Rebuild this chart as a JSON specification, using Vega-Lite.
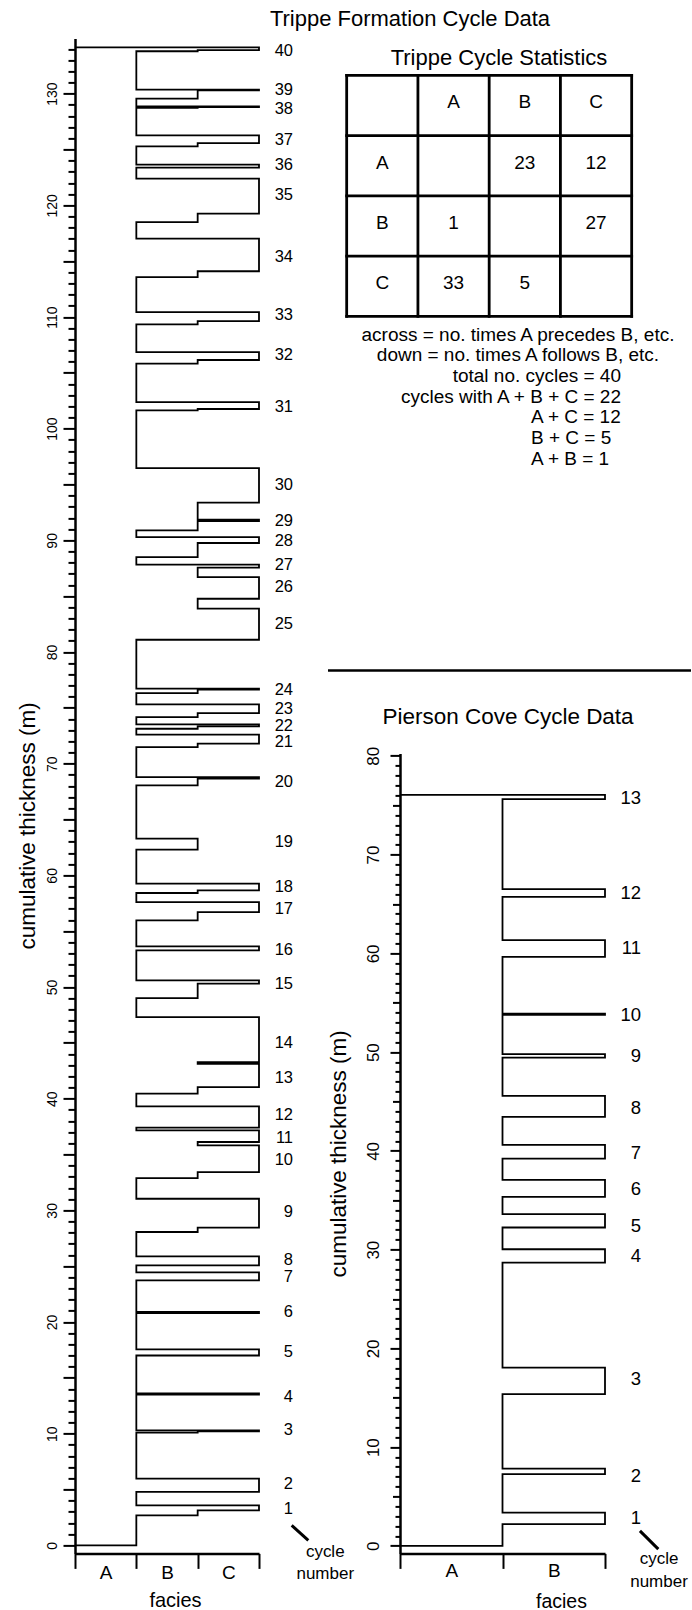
{
  "$schema": "https://vega.github.io/schema/vega-lite/v6.json",
  "background": "white",
  "padding": {"left": 16, "top": 7.4, "right": 0, "bottom": 0},
  "bounds": "flush",
  "spacing": 141,
  "datasets": {
    "facies": [{"f": "-", "k": 0}, {"f": "A", "k": 1}, {"f": "B", "k": 2}, {"f": "C", "k": 3}],
    "trippe": [
      {"s":0,"f":"-","t":0},{"s":1,"f":"A","t":0},{"s":2,"f":"B","t":2.69},{"s":3,"f":"C","t":3.13},{"s":4,"f":"A","t":3.58},
      {"s":5,"f":"C","t":4.78},{"s":6,"f":"A","t":5.97},{"s":7,"f":"B","t":10.1},{"s":8,"f":"C","t":10.2},{"s":9,"f":"A","t":10.3},
      {"s":10,"f":"C","t":13.5},{"s":11,"f":"A","t":13.6},{"s":12,"f":"C","t":17.0},{"s":13,"f":"A","t":17.55},{"s":14,"f":"C","t":20.8},
      {"s":15,"f":"A","t":20.9},{"s":16,"f":"C","t":23.73},{"s":17,"f":"A","t":24.45},{"s":18,"f":"C","t":25.07},{"s":19,"f":"A","t":25.88},
      {"s":20,"f":"B","t":28.06},{"s":21,"f":"C","t":28.45},{"s":22,"f":"A","t":31.04},{"s":23,"f":"B","t":32.89},{"s":24,"f":"C","t":33.43},
      {"s":25,"f":"B","t":35.82},{"s":26,"f":"C","t":36.12},{"s":27,"f":"A","t":37.16},{"s":28,"f":"C","t":37.4},{"s":29,"f":"A","t":39.31},
      {"s":30,"f":"B","t":40.45},{"s":31,"f":"C","t":41.04},{"s":32,"f":"B","t":43.13},{"s":33,"f":"C","t":43.28},{"s":34,"f":"A","t":47.31},
      {"s":35,"f":"B","t":49.01},{"s":36,"f":"C","t":50.3},{"s":37,"f":"A","t":50.6},{"s":38,"f":"C","t":53.28},{"s":39,"f":"A","t":53.64},
      {"s":40,"f":"B","t":55.97},{"s":41,"f":"C","t":56.71},{"s":42,"f":"A","t":57.61},{"s":43,"f":"B","t":58.42},{"s":44,"f":"C","t":58.66},
      {"s":45,"f":"A","t":59.26},{"s":46,"f":"B","t":62.3},{"s":47,"f":"A","t":63.28},{"s":48,"f":"B","t":68.06},{"s":49,"f":"C","t":68.66},
      {"s":50,"f":"A","t":68.8},{"s":51,"f":"B","t":71.49},{"s":52,"f":"C","t":71.79},{"s":53,"f":"A","t":72.6},{"s":54,"f":"B","t":73.13},
      {"s":55,"f":"C","t":73.34},{"s":56,"f":"A","t":73.52},{"s":57,"f":"B","t":74.17},{"s":58,"f":"C","t":74.53},{"s":59,"f":"A","t":75.31},
      {"s":60,"f":"B","t":76.32},{"s":61,"f":"C","t":76.63},{"s":62,"f":"A","t":76.72},{"s":63,"f":"C","t":81.1},{"s":64,"f":"B","t":83.88},
      {"s":65,"f":"C","t":84.77},{"s":66,"f":"B","t":86.71},{"s":67,"f":"C","t":87.55},{"s":68,"f":"A","t":87.82},{"s":69,"f":"B","t":88.5},
      {"s":70,"f":"C","t":89.76},{"s":71,"f":"A","t":90.29},{"s":72,"f":"B","t":90.89},{"s":73,"f":"C","t":91.73},{"s":74,"f":"B","t":91.85},
      {"s":75,"f":"C","t":93.37},{"s":76,"f":"A","t":96.47},{"s":77,"f":"B","t":101.64},{"s":78,"f":"C","t":101.76},{"s":79,"f":"A","t":102.38},
      {"s":80,"f":"B","t":105.82},{"s":81,"f":"C","t":106.15},{"s":82,"f":"A","t":106.86},{"s":83,"f":"B","t":109.34},{"s":84,"f":"C","t":109.64},
      {"s":85,"f":"A","t":110.44},{"s":86,"f":"B","t":113.58},{"s":87,"f":"C","t":114.1},{"s":88,"f":"A","t":117.02},{"s":89,"f":"B","t":118.5},
      {"s":90,"f":"C","t":119.25},{"s":91,"f":"A","t":122.39},{"s":92,"f":"C","t":123.37},{"s":93,"f":"A","t":123.64},{"s":94,"f":"B","t":125.28},
      {"s":95,"f":"C","t":125.57},{"s":96,"f":"A","t":126.26},{"s":97,"f":"B","t":128.74},{"s":98,"f":"C","t":128.8},{"s":99,"f":"A","t":128.86},
      {"s":100,"f":"B","t":129.55},{"s":101,"f":"C","t":130.3},{"s":102,"f":"A","t":130.36},{"s":103,"f":"B","t":133.8},{"s":104,"f":"C","t":133.9},
      {"s":105,"f":"-","t":134.15}
    ],
    "trippeLabels": [
      {"n":"1","t":3.29},{"n":"2","t":5.52},{"n":"3","t":10.3},{"n":"4","t":13.28},{"n":"5","t":17.31},{"n":"6","t":20.89},{"n":"7","t":24.03},
      {"n":"8","t":25.52},{"n":"9","t":29.85},{"n":"10","t":34.48},{"n":"11","t":36.51},{"n":"12","t":38.51},{"n":"13","t":41.88},{"n":"14","t":44.98},
      {"n":"15","t":50.3},{"n":"16","t":53.28},{"n":"17","t":57.01},{"n":"18","t":58.95},{"n":"19","t":62.98},{"n":"20","t":68.35},{"n":"21","t":71.94},
      {"n":"22","t":73.34},{"n":"23","t":74.93},{"n":"24","t":76.63},{"n":"25","t":82.54},{"n":"26","t":85.82},{"n":"27","t":87.76},{"n":"28","t":89.93},
      {"n":"29","t":91.73},{"n":"30","t":94.92},{"n":"31","t":101.93},{"n":"32","t":106.6},{"n":"33","t":110.15},{"n":"34","t":115.37},{"n":"35","t":120.9},
      {"n":"36","t":123.58},{"n":"37","t":125.82},{"n":"38","t":128.66},{"n":"39","t":130.36},{"n":"40","t":133.8}
    ],
    "pierson": [
      {"s":0,"f":"-","t":0},{"s":1,"f":"A","t":0},{"s":2,"f":"B","t":2.2},{"s":3,"f":"A","t":3.37},{"s":4,"f":"B","t":7.26},{"s":5,"f":"A","t":7.83},
      {"s":6,"f":"B","t":15.36},{"s":7,"f":"A","t":18.06},{"s":8,"f":"B","t":28.69},{"s":9,"f":"A","t":30.04},{"s":10,"f":"B","t":32.24},
      {"s":11,"f":"A","t":33.59},{"s":12,"f":"B","t":35.34},{"s":13,"f":"A","t":37.06},{"s":14,"f":"B","t":39.22},{"s":15,"f":"A","t":40.61},
      {"s":16,"f":"B","t":43.44},{"s":17,"f":"A","t":45.57},{"s":18,"f":"B","t":49.45},{"s":19,"f":"A","t":49.79},{"s":20,"f":"B","t":53.77},
      {"s":21,"f":"A","t":53.9},{"s":22,"f":"B","t":59.65},{"s":23,"f":"A","t":61.34},{"s":24,"f":"B","t":65.72},{"s":25,"f":"A","t":66.5},
      {"s":26,"f":"B","t":75.61},{"s":27,"f":"-","t":76.05}
    ],
    "piersonLabels": [
      {"n":"1","t":2.87},{"n":"2","t":7.09},{"n":"3","t":16.88},{"n":"4","t":29.37},{"n":"5","t":32.41},{"n":"6","t":36.12},{"n":"7","t":39.83},
      {"n":"8","t":44.39},{"n":"9","t":49.62},{"n":"10","t":53.77},{"n":"11","t":60.59},{"n":"12","t":66.16},{"n":"13","t":75.78}
    ],
    "grid": [{"b":-0.5},{"b":0.5},{"b":1.5},{"b":2.5},{"b":3.5}],
    "cells": [
      {"r":0,"c":1,"v":"A"},{"r":0,"c":2,"v":"B"},{"r":0,"c":3,"v":"C"},
      {"r":1,"c":0,"v":"A"},{"r":1,"c":2,"v":"23"},{"r":1,"c":3,"v":"12"},
      {"r":2,"c":0,"v":"B"},{"r":2,"c":1,"v":"1"},{"r":2,"c":3,"v":"27"},
      {"r":3,"c":0,"v":"C"},{"r":3,"c":1,"v":"33"},{"r":3,"c":2,"v":"5"}
    ],
    "notes": [
      {"line":1,"note":"across = no. times A  precedes B, etc."},
      {"line":2,"note":"down = no. times A follows B, etc."},
      {"line":3,"note":"total no. cycles = 40"},
      {"line":4,"note":"cycles with A + B + C = 22"},
      {"line":5,"note":"A + C = 12"},
      {"line":6,"note":"B + C = 5"},
      {"line":7,"note":"A + B = 1"}
    ],
    "one": [{}]
  },
  "hconcat": [
    {
      "width": 184,
      "height": 1515,
      "layer": [
        {
          "data": {"name": "trippe"},
          "transform": [{"lookup": "f", "from": {"data": {"name": "facies"}, "key": "f", "fields": ["k"]}}],
          "mark": {"type": "line", "interpolate": "step-before", "color": "black", "strokeWidth": 1.8},
          "encoding": {
            "x": {"field": "k", "type": "quantitative", "scale": {"domain": [0, 3], "nice": false, "zero": false},
              "axis": {"values": [0, 1, 2, 3], "labelExpr": "datum.value == 1 ? 'A' : datum.value == 2 ? 'B' : datum.value == 3 ? 'C' : ''",
                "labelOffset": -30.67, "labelFlush": false, "labelFontSize": 19, "labelPadding": -4.5, "tickSize": 15, "tickWidth": 2, "domainWidth": 2.5,
                "title": "facies", "titleFontSize": 20, "titleX": 100, "titleY": 53.5, "titleBaseline": "alphabetic"}},
            "y": {"field": "t", "type": "quantitative", "scale": {"domain": [-0.72, 134.95], "nice": false, "zero": false},
              "axis": {"tickCount": 135, "labelExpr": "datum.value % 10 === 0 ? datum.label : ''", "labelOverlap": false, "labelBound": false, "labelFlush": false,
                "tickSize": {"expr": "datum.value % 5 === 0 ? 12 : 7"}, "tickWidth": 2, "domainWidth": 2.5,
                "labelAngle": 270, "labelAlign": "center", "labelBaseline": "bottom", "labelPadding": 4, "labelFontSize": 14,
                "title": "cumulative thickness (m)", "titleFontSize": 22.5, "titleAngle": 270, "titleX": -48, "titleY": 787, "titleBaseline": "middle", "titleAlign": "center"}},
            "order": {"field": "s", "type": "quantitative"}
          }
        },
        {
          "data": {"name": "trippeLabels"},
          "mark": {"type": "text", "align": "right", "baseline": "middle", "fontSize": 16.5},
          "encoding": {
            "x": {"datum": 3.555, "type": "quantitative"},
            "y": {"field": "t", "type": "quantitative"},
            "text": {"field": "n"}
          }
        },
        {
          "data": {"name": "one"},
          "mark": {"type": "text", "text": ["cycle", "number"], "align": "center", "baseline": "alphabetic", "fontSize": 17, "lineHeight": 22},
          "encoding": {"x": {"datum": 4.08, "type": "quantitative"}, "y": {"datum": -1.02, "type": "quantitative"}}
        },
        {
          "data": {"name": "one"},
          "mark": {"type": "rule", "strokeWidth": 3, "color": "black"},
          "encoding": {"x": {"datum": 3.533, "type": "quantitative"}, "x2": {"datum": 3.804}, "y": {"datum": 1.79, "type": "quantitative"}, "y2": {"datum": 0.448}}
        }
      ]
    },
    {
      "bounds": "flush",
      "spacing": 10,
      "vconcat": [
        {
          "width": 232,
          "height": 280,
          "layer": [
            {
              "data": {"name": "grid"},
              "mark": {"type": "rule", "strokeWidth": 2.8, "strokeCap": "square", "color": "black"},
              "encoding": {
                "x": {"field": "b", "type": "quantitative", "scale": {"domain": [0.2484, 3.5046], "nice": false, "zero": false}, "axis": null},
                "y": {"datum": -0.5, "type": "quantitative", "scale": {"domain": [-1.1137, 3.534], "reverse": true, "nice": false, "zero": false}, "axis": null},
                "y2": {"datum": 3.5}
              }
            },
            {
              "data": {"name": "grid"},
              "mark": {"type": "rule", "strokeWidth": 2.8, "strokeCap": "square", "color": "black"},
              "encoding": {
                "y": {"field": "b", "type": "quantitative", "scale": {"domain": [-1.1137, 3.534], "reverse": true, "nice": false, "zero": false}, "axis": null},
                "x": {"datum": -0.5, "type": "quantitative", "scale": {"domain": [0.2484, 3.5046], "nice": false, "zero": false}, "axis": null},
                "x2": {"datum": 3.5}
              }
            },
            {
              "data": {"name": "cells"},
              "mark": {"type": "text", "align": "center", "baseline": "middle", "fontSize": 19, "dy": -3},
              "encoding": {
                "x": {"field": "c", "type": "quantitative", "scale": {"domain": [0.2484, 3.5046], "nice": false, "zero": false}, "axis": null},
                "y": {"field": "r", "type": "quantitative", "scale": {"domain": [-1.1137, 3.534], "reverse": true, "nice": false, "zero": false}, "axis": null},
                "text": {"field": "v"}
              }
            },
            {
              "data": {"name": "one"},
              "mark": {"type": "text", "text": "Trippe Cycle Statistics", "align": "center", "baseline": "middle", "fontSize": 22},
              "encoding": {"x": {"datum": 1.638, "type": "quantitative"}, "y": {"datum": -0.782, "type": "quantitative"}}
            },
            {
              "data": {"name": "one"},
              "mark": {"type": "text", "text": "Trippe Formation Cycle Data", "align": "center", "baseline": "middle", "fontSize": 22},
              "encoding": {"x": {"datum": 0.3887, "type": "quantitative"}, "y": {"datum": -1.439, "type": "quantitative"}}
            }
          ]
        },
        {
          "width": 232,
          "height": 415,
          "layer": [
            {
              "data": {"name": "notes"},
              "transform": [{"filter": "datum.line <= 2"}],
              "mark": {"type": "text", "align": "center", "baseline": "middle", "fontSize": 19},
              "encoding": {
                "x": {"datum": 1.9045, "type": "quantitative", "scale": {"domain": [0.2484, 3.5046], "nice": false, "zero": false}, "axis": null},
                "y": {"field": "line", "type": "quantitative", "scale": {"domain": [0.695, 20.772], "reverse": true, "nice": false, "zero": false}, "axis": null},
                "text": {"field": "note"}
              }
            },
            {
              "data": {"name": "notes"},
              "transform": [{"filter": "datum.line >= 3 && datum.line <= 4"}],
              "mark": {"type": "text", "align": "right", "baseline": "middle", "fontSize": 19},
              "encoding": {
                "x": {"datum": 3.3502, "type": "quantitative"},
                "y": {"field": "line", "type": "quantitative"},
                "text": {"field": "note"}
              }
            },
            {
              "data": {"name": "notes"},
              "transform": [{"filter": "datum.line >= 5"}],
              "mark": {"type": "text", "align": "left", "baseline": "middle", "fontSize": 19},
              "encoding": {
                "x": {"datum": 2.087, "type": "quantitative"},
                "y": {"field": "line", "type": "quantitative"},
                "text": {"field": "note"}
              }
            },
            {
              "data": {"name": "one"},
              "mark": {"type": "rule", "strokeWidth": 2.5, "color": "black"},
              "encoding": {"x": {"datum": -0.762, "type": "quantitative"}, "x2": {"datum": 4.3326}, "y": {"datum": 17.24, "type": "quantitative"}}
            }
          ]
        },
        {
          "width": 205,
          "height": 800,
          "layer": [
            {
              "data": {"name": "pierson"},
              "transform": [{"lookup": "f", "from": {"data": {"name": "facies"}, "key": "f", "fields": ["k"]}}],
              "mark": {"type": "line", "interpolate": "step-before", "color": "black", "strokeWidth": 1.8},
              "encoding": {
                "x": {"field": "k", "type": "quantitative", "scale": {"domain": [0, 2], "nice": false, "zero": false},
                  "axis": {"values": [0, 1, 2], "labelExpr": "datum.value == 1 ? 'A' : datum.value == 2 ? 'B' : ''",
                    "labelOffset": -51.25, "labelFlush": false, "labelFontSize": 19, "labelPadding": -6.4, "tickSize": 15, "tickWidth": 2, "domainWidth": 2.5,
                    "title": "facies", "titleFontSize": 19.5, "titleX": 161, "titleY": 53.7, "titleBaseline": "alphabetic"}},
                "y": {"field": "t", "type": "quantitative", "scale": {"domain": [-0.76, 80.25], "nice": false, "zero": false},
                  "axis": {"tickCount": 81, "labelExpr": "datum.value % 10 === 0 ? datum.label : ''", "labelOverlap": false, "labelBound": false, "labelFlush": false,
                    "tickSize": {"expr": "datum.value % 10 === 0 ? 10 : datum.value % 5 === 0 ? 7.5 : 5"}, "tickWidth": 2, "domainWidth": 2.5,
                    "labelAngle": 270, "labelAlign": "center", "labelBaseline": "bottom", "labelPadding": 7, "labelFontSize": 17,
                    "title": "cumulative thickness (m)", "titleFontSize": 22.5, "titleAngle": 270, "titleX": -62, "titleY": 400, "titleBaseline": "middle", "titleAlign": "center"}},
                "order": {"field": "s", "type": "quantitative"}
              }
            },
            {
              "data": {"name": "piersonLabels"},
              "mark": {"type": "text", "align": "right", "baseline": "middle", "fontSize": 18.5},
              "encoding": {
                "x": {"datum": 2.351, "type": "quantitative"},
                "y": {"field": "t", "type": "quantitative"},
                "text": {"field": "n"}
              }
            },
            {
              "data": {"name": "one"},
              "mark": {"type": "text", "text": "Pierson Cove Cycle Data", "align": "center", "baseline": "middle", "fontSize": 22.5},
              "encoding": {"x": {"datum": 1.054, "type": "quantitative"}, "y": {"datum": 83.95, "type": "quantitative"}}
            },
            {
              "data": {"name": "one"},
              "mark": {"type": "text", "text": ["cycle", "number"], "align": "center", "baseline": "alphabetic", "fontSize": 17, "lineHeight": 23.5},
              "encoding": {"x": {"datum": 2.527, "type": "quantitative"}, "y": {"datum": -1.82, "type": "quantitative"}}
            },
            {
              "data": {"name": "one"},
              "mark": {"type": "rule", "strokeWidth": 3, "color": "black"},
              "encoding": {"x": {"datum": 2.341, "type": "quantitative"}, "x2": {"datum": 2.52}, "y": {"datum": 1.52, "type": "quantitative"}, "y2": {"datum": -0.33}}
            }
          ]
        }
      ]
    }
  ],
  "config": {
    "view": {"stroke": null},
    "font": "Liberation Sans",
    "axis": {"grid": false, "domainColor": "black", "tickColor": "black", "labelColor": "black", "titleColor": "black", "titleFontWeight": "normal", "labelFont": "Liberation Sans", "titleFont": "Liberation Sans"},
    "text": {"color": "black", "font": "Liberation Sans"}
  }
}
